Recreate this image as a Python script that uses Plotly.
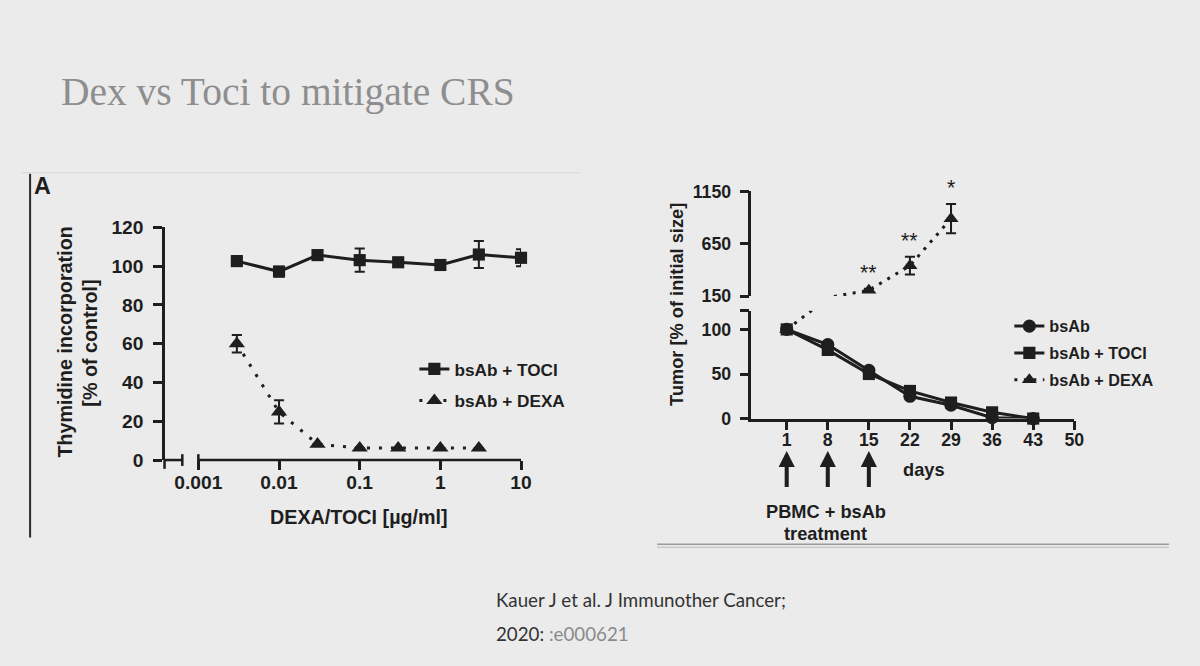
import plotly.graph_objects as go
import math

# reference frame (all positions below are measured in this 1200x666 frame)
W, H = 1200, 666
# rendered figure size (the page capture is fitted back to 1200 px wide)
FW = 1215
S = FW / W
FH = round(H * S)

INK = "#1e1e1e"
BG = "#ebebeb"
NBSP = "\u00a0"

# ---------------- data: left panel (thymidine incorporation) ----------------
conc = [0.003, 0.01, 0.03, 0.1, 0.3, 1, 3, 10]
toci_y = [102.6, 97.2, 105.7, 103.1, 102, 100.6, 106, 104.3]
toci_err = [2.5, 2.5, 1, 6, 1, 2, 7, 4.4]
dexa_conc = [0.003, 0.01, 0.03, 0.1, 0.3, 1, 3]
dexa_y = [60, 24.8, 8.2, 6.2, 6.2, 6.2, 6.2]
dexa_err = [4.5, 6, 0, 0, 0, 0, 0]
left_xticks = [0.001, 0.01, 0.1, 1, 10]
left_xticklabels = ["0.001", "0.01", "0.1", "1", "10"]
left_yticks = [0, 20, 40, 60, 80, 100, 120]

# ---------------- data: right panel (tumor size) ----------------
days = [1, 8, 15, 22, 29, 36, 43]
bsab_y = [100, 83, 54, 25, 15, 1, 0]
bsab_toci_y = [100, 77, 50, 31, 18, 7, 0]
dexa_days = [1, 8, 15, 22, 29]
bsab_dexa_y = [100, 135, 205, 440, 890]
bsab_dexa_err = [0, 0, 15, 85, 140]
sig_days = [15, 22, 29]
sig_labels = ["**", "**", "*"]
day_ticks = [1, 8, 15, 22, 29, 36, 43, 50]
lower_range = [0, 121]
upper_range = [150, 1150]
lower_ticks = [0, 50, 100, 121]
lower_ticklabels = ["0", "50", "100", ""]
upper_ticks = [150, 650, 1150]
treat_days = [1, 8, 15]


def fx(p):
    return p / W


def fy(p):
    return 1 - p / H


def s(v):
    return v * S


def bold(size):
    return dict(family="Liberation Sans", size=s(size), color=INK, weight="bold")


def ylabels(labels):
    # a trailing no-break space keeps the labels clear of the tick marks
    return [str(t) + NBSP if str(t) else "" for t in labels]


fig = go.Figure()

# ---------------- left panel traces ----------------
fig.add_trace(go.Scatter(
    x=conc, y=toci_y, name="bsAb + TOCI", mode="lines+markers",
    line=dict(color=INK, width=s(3)),
    marker=dict(symbol="square", size=s(12), color=INK),
    error_y=dict(type="data", array=toci_err, color=INK, thickness=s(2), width=s(5)),
    cliponaxis=False, xaxis="x", yaxis="y", legend="legend",
    legendgroup="l1"))
fig.add_trace(go.Scatter(
    x=dexa_conc, y=dexa_y, name="bsAb + DEXA", mode="lines+markers",
    line=dict(color=INK, width=s(3), dash="3px,9px"),
    marker=dict(symbol="triangle-up", size=s(14), color=INK),
    error_y=dict(type="data", array=dexa_err, color=INK, thickness=s(2), width=s(5)),
    cliponaxis=False, xaxis="x", yaxis="y", legend="legend",
    legendgroup="l2"))

# ---------------- right panel traces ----------------
up_op = [1 if upper_range[0] <= v <= upper_range[1] else 0 for v in bsab_dexa_y]

fig.add_trace(go.Scatter(
    x=days, y=bsab_y, name="bsAb", mode="lines+markers",
    line=dict(color=INK, width=s(3)),
    marker=dict(symbol="circle", size=s(13), color=INK),
    cliponaxis=False, xaxis="x2", yaxis="y2", legend="legend2",
    legendgroup="r1"))
fig.add_trace(go.Scatter(
    x=days, y=bsab_toci_y, name="bsAb + TOCI", mode="lines+markers",
    line=dict(color=INK, width=s(3)),
    marker=dict(symbol="square", size=s(12), color=INK),
    cliponaxis=False, xaxis="x2", yaxis="y2", legend="legend2",
    legendgroup="r2"))
fig.add_trace(go.Scatter(
    x=dexa_days, y=bsab_dexa_y, name="bsAb + DEXA", mode="lines+markers",
    line=dict(color=INK, width=s(3), dash="3px,6.5px"),
    marker=dict(symbol="triangle-up", size=s(13), color=INK),
    cliponaxis=True, xaxis="x2", yaxis="y2", legend="legend2",
    legendgroup="r3"))
fig.add_trace(go.Scatter(
    x=dexa_days, y=bsab_dexa_y, name="bsAb + DEXA", mode="lines+markers",
    line=dict(color=INK, width=s(3), dash="3px,6.5px"),
    marker=dict(symbol="triangle-up", size=s(13), color=INK, opacity=up_op),
    error_y=dict(type="data", array=bsab_dexa_err, color=INK, thickness=s(2),
                 width=s(5)),
    cliponaxis=True, showlegend=False, xaxis="x3", yaxis="y3"))

# ---------------- axes ----------------
L0, L1 = 164, 519.3          # left plot x pixels (y axis .. tick "10")
DEC = 80.4                   # pixels per decade
lx_r1 = math.log10(left_xticks[-1])
lx_r0 = lx_r1 - (L1 - L0) / DEC
R0, R1 = 749, 1070.7


def axis_common(size, standoff=0):
    return dict(showgrid=False, zeroline=False, ticks="outside", ticklen=s(9),
                tickwidth=s(2.5), tickcolor=INK, tickfont=bold(size),
                ticklabelstandoff=standoff)


fig.update_layout(
    xaxis=dict(domain=[fx(L0), fx(L1)], type="log", range=[lx_r0, lx_r1],
               tickvals=left_xticks, ticktext=left_xticklabels,
               showline=False, anchor="y", **axis_common(19, -4)),
    yaxis=dict(domain=[fy(459), fy(221.7)], range=[0, 120], tickvals=left_yticks,
               ticktext=ylabels(left_yticks),
               showline=True, linewidth=s(2.5), linecolor=INK, anchor="x",
               **axis_common(19)),
    xaxis2=dict(domain=[fx(R0), fx(R1)], range=[-5, 50], tickvals=day_ticks,
                showline=True, linewidth=s(2.5), linecolor=INK, anchor="y2",
                **axis_common(17.5, -6)),
    yaxis2=dict(domain=[fy(416.7), fy(306.7)], range=lower_range, tickvals=lower_ticks,
                ticktext=ylabels(lower_ticklabels), showline=True, linewidth=s(2.5),
                linecolor=INK, anchor="x2", **axis_common(17.5)),
    xaxis3=dict(domain=[fx(R0), fx(R1)], range=[-5, 50], visible=False,
                anchor="y3"),
    yaxis3=dict(domain=[fy(291.7), fy(185)], range=upper_range, tickvals=upper_ticks,
                ticktext=ylabels(upper_ticks),
                showline=True, linewidth=s(2.5), linecolor=INK, anchor="x3",
                **axis_common(17.5)),
)

# ---------------- legends ----------------
fig.update_layout(
    legend=dict(x=fx(413), y=fy(348), xanchor="left", yanchor="top",
                bgcolor="rgba(0,0,0,0)", font=bold(17), itemwidth=30,
                traceorder="grouped", tracegroupgap=6.3),
    legend2=dict(x=fx(1006), y=fy(305), xanchor="left", yanchor="top",
                 bgcolor="rgba(0,0,0,0)", font=bold(16), itemwidth=30,
                 traceorder="grouped", tracegroupgap=2.8),
)

# ---------------- shapes ----------------
shapes = []
lw = L1 - L0
seg1_end = (181.7 - L0) / lw
seg2_start = (197.7 - L0) / lw
axis_line = dict(color=INK, width=s(2.5))
# broken x axis (left panel)
shapes.append(dict(type="line", xref="x domain", yref="y domain",
                   x0=0, x1=seg1_end, y0=0, y1=0, line=axis_line))
shapes.append(dict(type="line", xref="x domain", yref="y domain",
                   x0=seg2_start, x1=1, y0=0, y1=0, line=axis_line))
for xp in [seg1_end, seg2_start]:
    shapes.append(dict(type="line", xref="x domain", yref="paper",
                       x0=xp, x1=xp, y0=fy(453), y1=fy(465), line=axis_line))
shapes.append(dict(type="line", xref="x domain", yref="paper",
                   x0=0, x1=0, y0=fy(459), y1=fy(468), line=axis_line))
# slide decorations
shapes.append(dict(type="line", xref="paper", yref="paper",
                   x0=fx(30), x1=fx(30), y0=fy(167), y1=fy(538),
                   line=dict(color="#2a2a2a", width=s(2))))
shapes.append(dict(type="line", xref="paper", yref="paper",
                   x0=fx(22), x1=fx(578), y0=fy(166), y1=fy(166),
                   line=dict(color="#d6d6d6", width=1)))
shapes.append(dict(type="line", xref="paper", yref="paper",
                   x0=fx(655), x1=fx(1165), y0=fy(545), y1=fy(545),
                   line=dict(color="#9a9a9a", width=1.5)))
shapes.append(dict(type="line", xref="paper", yref="paper",
                   x0=fx(655), x1=fx(1165), y0=fy(548), y1=fy(548),
                   line=dict(color="#c9c9c9", width=1.5)))
fig.update_layout(shapes=shapes)

# ---------------- annotations ----------------
ann = []
ann.append(dict(text="Dex vs Toci to mitigate CRS", x=fx(59), y=fy(84),
                xref="paper", yref="paper", xanchor="left", yanchor="middle",
                showarrow=False,
                font=dict(family="Liberation Serif", size=s(39), color="#8e8e8e")))
ann.append(dict(text="A", x=fx(32), y=fy(180), xref="paper", yref="paper",
                xanchor="left", yanchor="middle", showarrow=False, font=bold(23)))
ann.append(dict(text="Thymidine incorporation", x=fx(65), y=fy(339),
                xref="paper", yref="paper", textangle=-90, showarrow=False,
                xanchor="center", yanchor="middle", font=bold(19.5)))
ann.append(dict(text="[% of control]", x=fx(90), y=fy(340),
                xref="paper", yref="paper", textangle=-90, showarrow=False,
                xanchor="center", yanchor="middle", font=bold(19.5)))
ann.append(dict(text="DEXA/TOCI [µg/ml]", x=fx(357.5), y=fy(517),
                xref="paper", yref="paper", showarrow=False,
                xanchor="center", yanchor="middle", font=bold(19.5)))
ann.append(dict(text="Tumor [% of initial size]", x=fx(674), y=fy(300.5),
                xref="paper", yref="paper", textangle=-90, showarrow=False,
                xanchor="center", yanchor="middle", font=bold(18)))
ann.append(dict(text="days", x=fx(921), y=fy(469), xref="paper", yref="paper",
                showarrow=False, xanchor="center", yanchor="middle", font=bold(18)))
ann.append(dict(text="PBMC + bsAb", x=fx(823), y=fy(512), xref="paper", yref="paper",
                showarrow=False, xanchor="center", yanchor="middle", font=bold(18)))
ann.append(dict(text="treatment", x=fx(823), y=fy(534), xref="paper", yref="paper",
                showarrow=False, xanchor="center", yanchor="middle", font=bold(18)))
for d, lab in zip(sig_days, sig_labels):
    i = dexa_days.index(d)
    ann.append(dict(text=lab, x=d, y=bsab_dexa_y[i] + bsab_dexa_err[i],
                    xref="x3", yref="y3", showarrow=False, xanchor="center",
                    yanchor="bottom", yshift=s(2),
                    font=dict(family="Liberation Sans", size=s(21), color=INK)))
for d in treat_days:
    ann.append(dict(text="", x=d, y=-0.30, xref="x2", yref="y2 domain",
                    showarrow=True, ax=0, ay=s(37), arrowhead=2, arrowsize=0.8,
                    arrowwidth=s(4), arrowcolor=INK))
ann.append(dict(text="Kauer J et al. J Immunother Cancer;", x=fx(492), y=fy(602),
                xref="paper", yref="paper", showarrow=False, xanchor="left",
                yanchor="middle",
                font=dict(family="Lato", size=s(18.5), color="#333333")))
ann.append(dict(text="2020: <span style='color:#8a8a8a'>:e000621</span>",
                x=fx(492), y=fy(636), xref="paper", yref="paper", showarrow=False,
                xanchor="left", yanchor="middle",
                font=dict(family="Lato", size=s(18.5), color="#333333")))
fig.update_layout(annotations=ann)

fig.update_layout(width=FW, height=FH, autosize=False,
                  margin=dict(l=0, r=0, t=0, b=0),
                  paper_bgcolor=BG, plot_bgcolor=BG)

fig.write_html("out.html")
